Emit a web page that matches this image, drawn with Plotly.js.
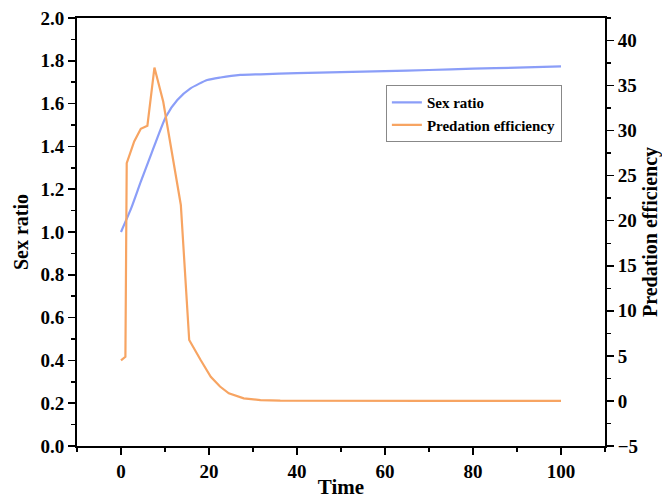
<!DOCTYPE html>
<html>
<head>
<meta charset="utf-8">
<script src="https://cdn.plot.ly/plotly-3.0.1.min.js"></script>
<style>html,body{margin:0;padding:0;background:#fff}#chart{width:662px;height:499px}</style>
</head>
<body>
<div id="chart"></div>
<script>
const sexTime = [0, 2.3, 4.5, 6.8, 10.2, 12.8, 15.8, 19.6, 22.6, 27.1, 31.7, 40, 50, 60, 70, 80, 90, 100];
const sexRatio = [1.0, 1.11, 1.235, 1.36, 1.539, 1.617, 1.671, 1.71, 1.722, 1.734, 1.737, 1.742, 1.747, 1.752, 1.757, 1.763, 1.768, 1.774];
const predTime = [0, 1.0, 1.3, 3.0, 4.5, 6.0, 7.6, 9.6, 13.6, 15.5, 18.1, 20.4, 22.5, 24.5, 27.9, 31.7, 36.2, 50, 70, 100];
const predEff = [4.5, 4.9, 26.4, 28.8, 30.2, 30.55, 37.0, 33.2, 21.75, 6.76, 4.54, 2.69, 1.6, 0.85, 0.29, 0.1, 0.03, 0.0, 0.0, 0.0];

const font = {family: '"Liberation Serif", "Times New Roman", serif', color: '#000'};

const traces = [
  {x: sexTime, y: sexRatio, name: 'Sex ratio', type: 'scatter', mode: 'lines',
   line: {color: '#8b9ef8', width: 2.2, shape: 'spline', smoothing: 0.6}, yaxis: 'y'},
  {x: predTime, y: predEff, name: 'Predation efficiency', type: 'scatter', mode: 'lines',
   line: {color: '#f7a462', width: 2.2}, yaxis: 'y2'}
];

const layout = {
  width: 662, height: 499,
  margin: {l: 77, r: 57, t: 18, b: 53},
  paper_bgcolor: '#fff', plot_bgcolor: '#fff',
  font: Object.assign({size: 16}, font),
  showlegend: true,
  legend: {x: 0.585, y: 0.843, xanchor: 'left', yanchor: 'top',
    bgcolor: '#fff', bordercolor: '#888', borderwidth: 1,
    font: Object.assign({size: 15, weight: 'bold'}, font),
    tracegroupgap: 0, itemwidth: 30},
  xaxis: {
    range: [-10, 110], tickmode: 'linear', tick0: 0, dtick: 20,
    ticks: 'outside', ticklen: 7, tickwidth: 1.5, tickcolor: '#000',
    minor: {dtick: 10, tick0: 0, ticks: 'outside', ticklen: 4, tickwidth: 1.5, tickcolor: '#000'},
    showline: true, linecolor: '#000', linewidth: 2, mirror: true,
    showgrid: false, zeroline: false,
    tickfont: Object.assign({size: 19, weight: 'bold'}, font),
    title: {text: 'Time', font: Object.assign({size: 21, weight: 'bold'}, font), standoff: 4}
  },
  yaxis: {
    range: [0, 2.0], tickmode: 'linear', tick0: 0, dtick: 0.2, tickformat: '.1f',
    ticks: 'outside', ticklen: 7, tickwidth: 1.5, tickcolor: '#000',
    minor: {dtick: 0.1, ticks: 'outside', ticklen: 4, tickwidth: 1.5, tickcolor: '#000'},
    showline: true, linecolor: '#000', linewidth: 2,
    showgrid: false, zeroline: false,
    tickfont: Object.assign({size: 19, weight: 'bold'}, font),
    title: {text: 'Sex ratio', font: Object.assign({size: 20, weight: 'bold'}, font), standoff: 6}
  },
  yaxis2: {
    overlaying: 'y', side: 'right',
    range: [-5, 42.5], tickmode: 'linear', tick0: -5, dtick: 5,
    ticks: 'outside', ticklen: 7, tickwidth: 1.5, tickcolor: '#000',
    minor: {dtick: 2.5, tick0: -5, ticks: 'outside', ticklen: 4, tickwidth: 1.5, tickcolor: '#000'},
    showline: true, linecolor: '#000', linewidth: 2,
    showgrid: false, zeroline: false,
    tickfont: Object.assign({size: 19, weight: 'bold'}, font),
    title: {text: 'Predation efficiency', font: Object.assign({size: 20, weight: 'bold'}, font), standoff: 8}
  }
};

Plotly.newPlot('chart', traces, layout, {displayModeBar: false, staticPlot: true});
</script>
</body>
</html>
